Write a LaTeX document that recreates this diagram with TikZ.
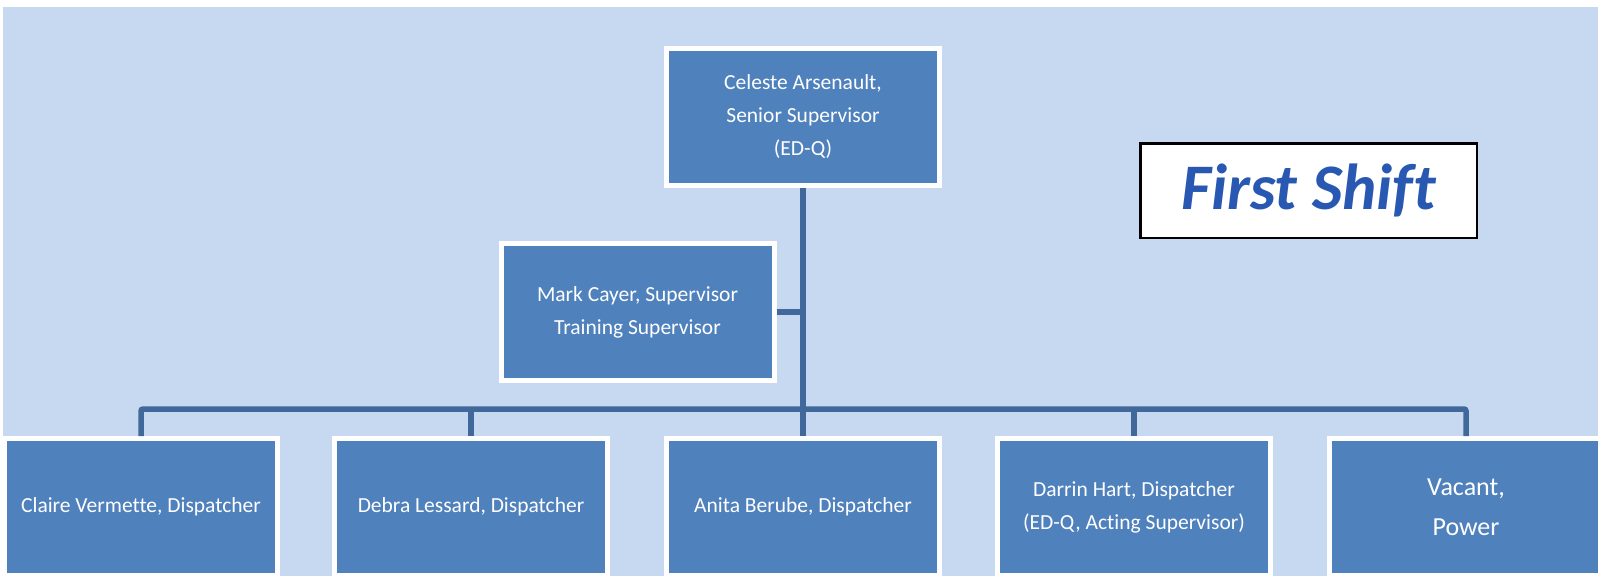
\documentclass[tikz,border=0pt]{standalone}
\usepackage{fontspec}
\setmainfont{Carlito}[Ligatures=NoCommon]
\definecolor{bgblue}{RGB}{198,217,240}
\definecolor{boxblue}{RGB}{79,129,189}
\definecolor{lineblue}{RGB}{64,104,155}
\definecolor{titleblue}{RGB}{40,88,178}
\tikzset{
  person/.style={draw=white, line width=5pt, fill=boxblue, text=white,
    minimum width=273pt, minimum height=137pt, inner sep=0pt, align=center,
    font=\fontsize{21.5}{33}\selectfont},
  link/.style={draw=lineblue, line width=5.5pt},
}
\begin{document}
\begin{tikzpicture}[x=1pt,y=-1pt]
   \useasboundingbox (0,0) rectangle (1598,576);
   \fill[white] (0,0) rectangle (1598,576);
   \fill[bgblue] (3,7) rectangle (1598,576);
   \node[person] (celeste) at (803,117) {Celeste Arsenault,\\Senior Supervisor\\(ED-Q)};
   \node[person] (mark) at (637.5,312) {Mark Cayer, Supervisor\\Training Supervisor};
   \node[person] (claire) at (141,507) {Claire Vermette, Dispatcher};
   \node[person] (debra) at (471,507) {Debra Lessard, Dispatcher};
   \node[person] (anita) at (803,507) {Anita Berube, Dispatcher};
   \node[person] (darrin) at (1134,507) {Darrin Hart, Dispatcher\\(ED-Q, Acting Supervisor)};
   \node[person, font=\fontsize{26}{40}\selectfont] (vacant) at (1466,507) {Vacant,\\Power};
   \node[draw=black, line width=2.5pt, fill=white, minimum width=336.5pt, minimum height=94.5pt,
     text=titleblue, font=\fontsize{65}{65}\selectfont\bfseries\itshape] (shift) at (1308.5,190.5) {First Shift};
   \coordinate (bus) at (803,409);
   \draw[link, line width=6pt] (celeste.south) -- (anita.north);
   \draw[link] (mark.east) -- (mark.east -| celeste.south);
   \draw[link, rounded corners=2pt] (claire.north) |- (bus) -| (vacant.north);
   \foreach \n in {debra,darrin}
     \draw[link] (\n.north) -- (\n.north |- bus);
\end{tikzpicture}
\end{document}
